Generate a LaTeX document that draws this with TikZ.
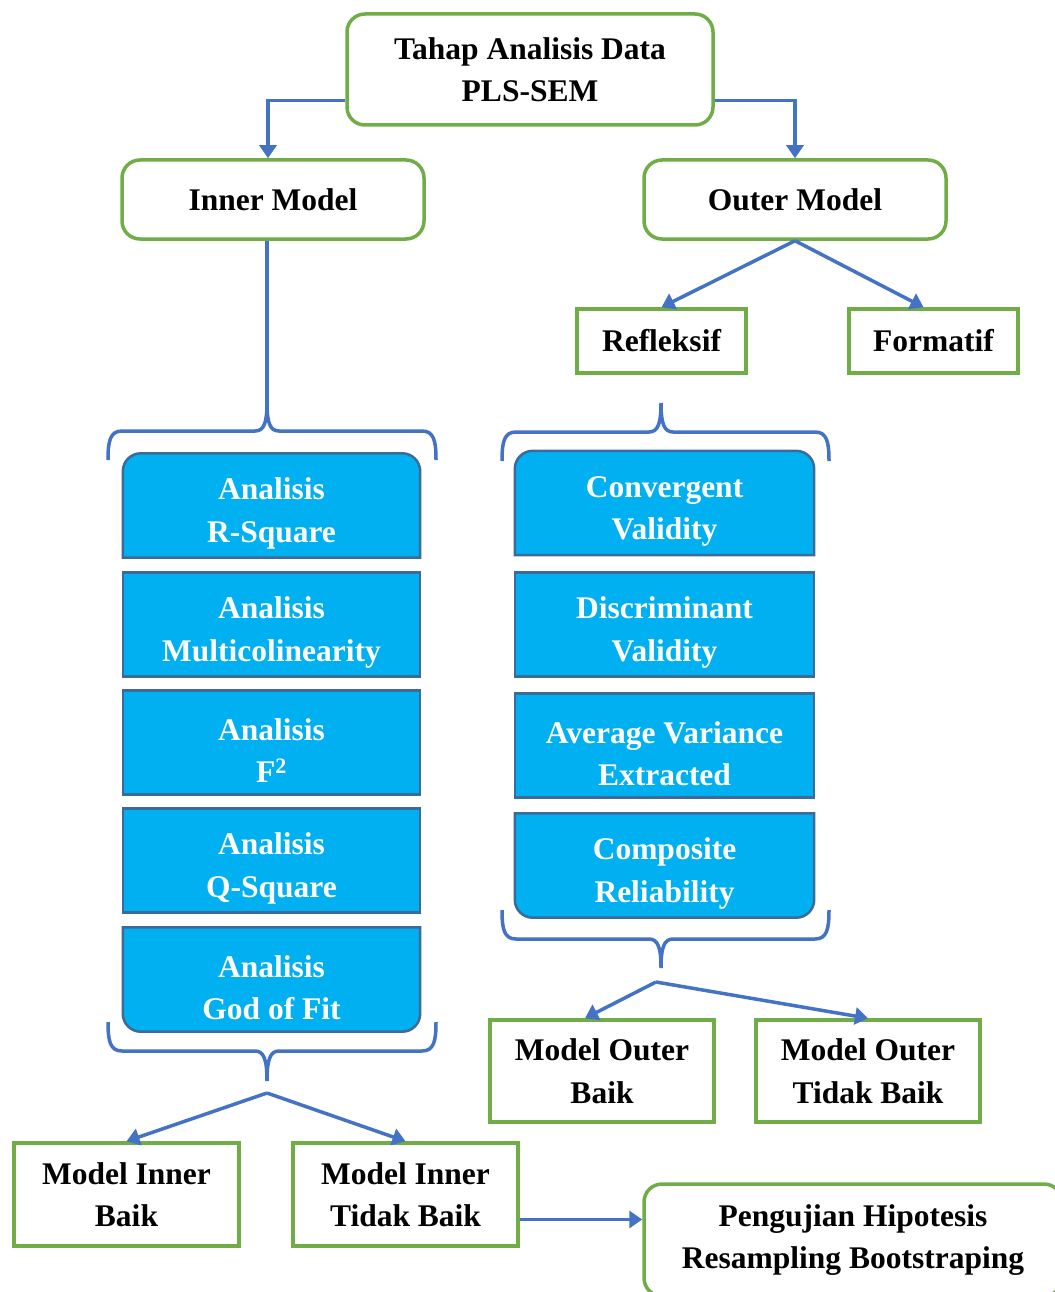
\documentclass[tikz,border=0pt]{standalone}
\usepackage{fontspec}
\setmainfont{Liberation Serif}
\usetikzlibrary{arrows.meta,backgrounds}

\definecolor{boxgreen}{HTML}{70AD47}
\definecolor{lineblue}{HTML}{4472C4}
\definecolor{cellblue}{HTML}{00B0F0}
\definecolor{celledge}{HTML}{3C6A9A}

% brace: left x, right x, cusp x, bar y, tip y, cusp y
\newcommand{\curlybrace}[6]{%
  \draw[bracestyle] (#1,#5) .. controls (#1,{#4+0.35*(#5-#4)}) and ({#1+2},#4) .. ({#1+14},#4)
    -- ({#3-12},#4) .. controls ({#3-3},#4) and (#3,{#4+0.3*(#6-#4)}) .. (#3,#6)
    .. controls (#3,{#4+0.3*(#6-#4)}) and ({#3+3},#4) .. ({#3+12},#4)
    -- ({#2-14},#4) .. controls ({#2-2},#4) and (#2,{#4+0.35*(#5-#4)}) .. (#2,#5);}
% pushes the first line of a cell down a little
\newcommand{\cellstrut}{\rule{0pt}{38pt}}

\tikzset{
  txt/.style={font=\fontsize{31.5}{42.5}\selectfont\bfseries, align=center, inner sep=0pt},
  roundbox/.style={txt, draw=boxgreen, line width=3.5pt, rounded corners=18pt, fill=white},
  squarebox/.style={txt, draw=boxgreen, line width=3.5pt, fill=white},
  cell/.style={txt, text=white, minimum height=104pt},
  cellbox/.style={fill=cellblue, draw=celledge, line width=2.5pt},
  link/.style={draw=lineblue, line width=3.5pt},
  arrowlink/.style={link, -{Triangle[length=13pt,width=17pt]}},
  bracestyle/.style={draw=lineblue, line width=3.5pt},
}

\begin{document}
\begin{tikzpicture}[x=1pt, y=-1pt]
  \useasboundingbox (0,0) rectangle (1054,1292);

  % top level
  \node[roundbox, minimum width=366pt, minimum height=111pt] (top) at (530,69.5) {Tahap Analisis Data\\PLS-SEM};
  \node[roundbox, minimum width=302pt, minimum height=79pt] (inner) at (273,199.5) {Inner Model};
  \node[roundbox, minimum width=302pt, minimum height=79pt] (outer) at (795,199.5) {Outer Model};

  \coordinate (tl) at ([yshift=-31pt]top.west);
  \coordinate (tr) at ([yshift=-31pt]top.east);
  \draw[arrowlink] (tl) -| ([xshift=-5pt]inner.north);
  \draw[arrowlink] (tr) -| (outer.north);

  % outer model types
  \node[squarebox, minimum width=169pt, minimum height=64pt] (refl) at (661.5,341) {Refleksif};
  \node[squarebox, minimum width=169pt, minimum height=64pt] (form) at (933.5,341) {Formatif};
  \draw[arrowlink] (outer.south) -- (refl.north);
  \draw[arrowlink] (outer.south) -- ([xshift=-10pt]form.north);

  % left column: inner model analyses
  \foreach \i/\y/\t in {1/505.5/{Analisis\\R-Square}, 2/624.5/{Analisis\\Multicolinearity},
      3/742.5/{Analisis\\F\textsuperscript{2}}, 4/860.5/{Analisis\\Q-Square}, 5/979.5/{Analisis\\God of Fit}}
    \node[cell, minimum width=297pt] (l\i) at (271.5,\y) {\cellstrut\t};

  % right column: outer model analyses
  \foreach \i/\y/\t in {1/503/{Convergent\\Validity}, 2/624.5/{Discriminant\\Validity},
      3/745.5/{Average Variance\\Extracted}, 4/865.5/{Composite\\Reliability}}
    \node[cell, minimum width=299pt] (r\i) at (664.5,\y) {\cellstrut\t};

  \begin{scope}[on background layer]
    \foreach \i in {2,3,4}
      \draw[cellbox] (l\i.south west) rectangle (l\i.north east);
    \foreach \i in {2,3}
      \draw[cellbox] (r\i.south west) rectangle (r\i.north east);
    % rounded caps
    \draw[cellbox] (l1.south west) -- ([yshift=-18pt]l1.north west) arc[start angle=180, end angle=90, radius=18pt]
      -- ([xshift=-18pt]l1.north east) arc[start angle=90, end angle=0, radius=18pt] -- (l1.south east) -- cycle;
    \draw[cellbox] (r1.south west) -- ([yshift=-18pt]r1.north west) arc[start angle=180, end angle=90, radius=18pt]
      -- ([xshift=-18pt]r1.north east) arc[start angle=90, end angle=0, radius=18pt] -- (r1.south east) -- cycle;
    \draw[cellbox] (l5.north west) -- ([yshift=18pt]l5.south west) arc[start angle=180, end angle=270, radius=18pt]
      -- ([xshift=-18pt]l5.south east) arc[start angle=270, end angle=360, radius=18pt] -- (l5.north east) -- cycle;
    \draw[cellbox] (r4.north west) -- ([yshift=18pt]r4.south west) arc[start angle=180, end angle=270, radius=18pt]
      -- ([xshift=-18pt]r4.south east) arc[start angle=270, end angle=360, radius=18pt] -- (r4.north east) -- cycle;
  \end{scope}

  % braces round the columns
  \curlybrace{108}{436}{267}{431}{460}{403}
  \curlybrace{502}{829}{661}{432}{461}{403}
  \curlybrace{108}{436}{267}{1051}{1022}{1081}
  \curlybrace{502}{829}{661}{939}{910}{968}
  \coordinate (lbt) at (267,403);
  \draw[link] ([xshift=-6pt]inner.south) -- (lbt);

  % results
  \node[squarebox, minimum width=225pt, minimum height=103pt] (mib) at (126.5,1194.5) {Model Inner\\Baik};
  \node[squarebox, minimum width=225pt, minimum height=103pt] (mitb) at (405.5,1194.5) {Model Inner\\Tidak Baik};
  \node[squarebox, minimum width=224pt, minimum height=102pt] (mob) at (602,1071) {Model Outer\\Baik};
  \node[squarebox, minimum width=224pt, minimum height=102pt] (motb) at (868,1071) {Model Outer\\Tidak Baik};

  \coordinate (lsplit) at (267,1093);
  \coordinate (rsplit) at (656,982);
  \draw[arrowlink] (lsplit) -- (mib.north);
  \draw[arrowlink] (lsplit) -- (mitb.north);
  \draw[arrowlink] (rsplit) -- ([xshift=-17pt]mob.north);
  \draw[arrowlink] (rsplit) -- (motb.north);

  % hypothesis test
  \node[roundbox, minimum width=418pt, minimum height=112pt] (peng) at (853,1240) {Pengujian Hipotesis\\Resampling Bootstraping};
  \coordinate (pin) at ([yshift=-25pt]mitb.east);
  \draw[arrowlink] (pin) -- (pin -| peng.west);
\end{tikzpicture}
\end{document}
